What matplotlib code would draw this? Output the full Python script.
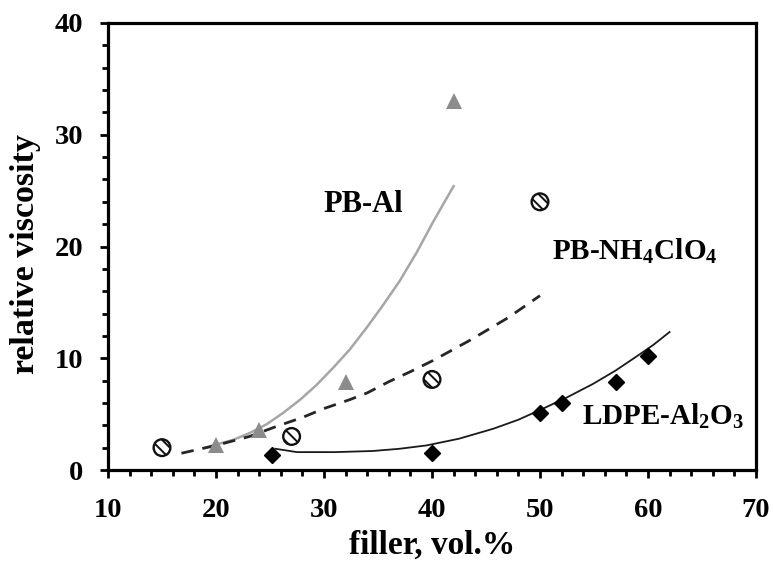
import matplotlib
matplotlib.use("Agg")
import matplotlib.pyplot as plt
from matplotlib.ticker import MultipleLocator

# Measured points
pb_al_x = [20, 24, 32, 42]
pb_al_y = [2.2, 3.6, 7.9, 33.0]

pb_ap_x = [15, 27, 40, 50]
pb_ap_y = [2.0, 3.0, 8.1, 24.0]

ldpe_x = [25.2, 40, 50, 52, 57, 60]
ldpe_y = [1.3, 1.5, 5.1, 6.0, 7.9, 10.2]

# Trend curves
pb_al_fit_x = [19.0, 20.1, 21.6, 23.1, 24.7, 26.2, 27.8, 29.3, 30.9, 32.4,
               34.0, 35.5, 37.0, 38.6, 40.1, 42.0]
pb_al_fit_y = [2.0, 2.3, 2.7, 3.3, 4.1, 5.1, 6.3, 7.6, 9.2, 10.8,
               12.8, 14.8, 16.9, 19.5, 22.2, 25.4]

pb_ap_fit_x = [16.8, 20.0, 23.1, 25.6, 28.0, 30.0, 32.4, 34.0, 36.0, 38.0,
               40.1, 43.5, 47.0, 50.0]
pb_ap_fit_y = [1.5, 2.2, 3.0, 3.9, 4.7, 5.5, 6.3, 6.9, 7.9, 8.8,
               9.8, 11.6, 13.6, 15.6]

ldpe_fit_x = [25.5, 27.5, 31.0, 34.5, 37.0, 39.5, 42.5, 45.7, 48.0, 50.3,
              52.5, 54.9, 57.0, 59.0, 60.5, 62.0]
ldpe_fit_y = [1.9, 1.6, 1.6, 1.7, 1.9, 2.2, 2.8, 3.7, 4.5, 5.5,
              6.5, 7.7, 8.9, 10.2, 11.2, 12.35]

x_ticks = [10, 20, 30, 40, 50, 60, 70]
y_ticks = [0, 10, 20, 30, 40]

plt.rcParams['font.family'] = ['Liberation Serif', 'DejaVu Serif']
plt.rcParams['font.weight'] = 'bold'
plt.rcParams['hatch.linewidth'] = 1.4

fig = plt.figure(figsize=(7.73, 5.61), dpi=100)
ax = fig.add_axes([108 / 773, 1 - 470 / 561, (756 - 108) / 773, (470 - 23) / 561])

# Fit curves
ax.plot(pb_al_fit_x, pb_al_fit_y, color='#a6a6a6', lw=1.8, zorder=2,
        solid_joinstyle='round')
ax.plot(pb_ap_fit_x, pb_ap_fit_y, color='#262626', lw=2.0, dashes=(4.5, 3.2), zorder=2)
ax.plot(ldpe_fit_x, ldpe_fit_y, color='#1a1a1a', lw=1.3, zorder=2,
        solid_joinstyle='round')

# Data markers
ax.plot(pb_al_x, pb_al_y, linestyle='none', marker='^', markersize=11,
        color='#8c8c8c', markeredgewidth=0, zorder=3)
ax.scatter(pb_ap_x, pb_ap_y, s=145, facecolor='white', edgecolor='#111111',
           linewidth=1.7, hatch='\\\\\\', zorder=3)
ax.plot(ldpe_x, ldpe_y, linestyle='none', marker='D', markersize=8,
        color='black', zorder=3)

ax.set_xlim(10, 70)
ax.set_ylim(0, 40)
ax.set_xticks(x_ticks)
ax.set_yticks(y_ticks)
ax.xaxis.set_minor_locator(MultipleLocator(2))
ax.yaxis.set_minor_locator(MultipleLocator(2))

for side in ['left', 'bottom', 'top', 'right']:
    ax.spines[side].set_linewidth(2.3)
ax.tick_params(axis='both', which='major', direction='out', length=6, width=2.0,
               labelsize=20.5)
ax.tick_params(axis='x', which='major', pad=14)
ax.tick_params(axis='y', which='major', pad=12)
ax.tick_params(axis='both', which='minor', direction='out', length=4.5, width=2.0)
for lbl in ax.get_xticklabels() + ax.get_yticklabels():
    lbl.set_fontweight('bold')

ax.set_xlabel('filler, vol.%', fontsize=24, fontweight='bold', labelpad=5)
ax.set_ylabel('relative viscosity', fontsize=24.5, fontweight='bold')
ax.yaxis.set_label_coords(-0.104, 0.483)

ax.text(33.6, 23.8, 'PB-Al', fontsize=22, fontweight='bold', ha='center', va='center')
ax.text(58.8, 19.6, r'PB-NH$_\mathregular{4}$ClO$_\mathregular{4}$', fontsize=21,
        fontweight='bold', ha='center', va='center')
ax.text(61.4, 4.8, r'LDPE-Al$_\mathregular{2}$O$_\mathregular{3}$', fontsize=21,
        fontweight='bold', ha='center', va='center')

fig.savefig('out.png', dpi=100)
